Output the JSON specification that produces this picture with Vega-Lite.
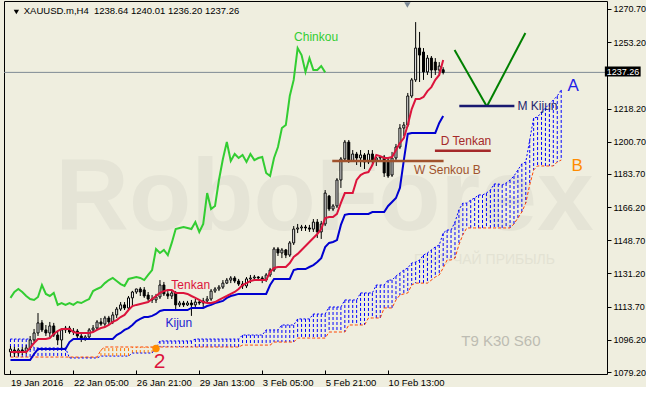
{
"$schema": "https://vega.github.io/schema/vega-lite/v6.json",
"width": 603, "height": 373,
"padding": {"left": 3, "top": 1, "right": 0, "bottom": 0},
"autosize": {"type": "pad"},
"background": "#EFEEDF",
"config": {"view": {"stroke": "#000000", "strokeWidth": 1, "fill": "#EFEEDF"}, "font": "Liberation Sans"},
"datasets": {
"bars": [
{"i":0,"o":1089.8,"h":1092.9,"l":1087.6,"c":1091.3,"tk":1089.8,"kj":1085.5,"ch":1118.3},
{"i":1,"o":1090.8,"h":1092.4,"l":1087.1,"c":1089.2,"tk":1089.8,"kj":1085.5,"ch":1121.4},
{"i":2,"o":1089.2,"h":1091.9,"l":1087.6,"c":1090.8,"tk":1089.8,"kj":1085.5,"ch":1123.0},
{"i":3,"o":1090.8,"h":1092.4,"l":1088.2,"c":1089.8,"tk":1089.8,"kj":1085.5,"ch":1121.4},
{"i":4,"o":1089.8,"h":1093.4,"l":1088.7,"c":1091.9,"tk":1089.8,"kj":1085.5,"ch":1119.3},
{"i":5,"o":1091.9,"h":1098.2,"l":1090.8,"c":1096.1,"tk":1091.9,"kj":1085.5,"ch":1117.7},
{"i":6,"o":1096.1,"h":1101.9,"l":1095.0,"c":1099.8,"tk":1094.5,"kj":1088.7,"ch":1117.2},
{"i":7,"o":1099.8,"h":1110.3,"l":1098.2,"c":1105.1,"tk":1096.6,"kj":1091.3,"ch":1118.8},
{"i":8,"o":1105.1,"h":1106.6,"l":1100.3,"c":1101.4,"tk":1096.6,"kj":1091.3,"ch":1125.1},
{"i":9,"o":1101.4,"h":1104.0,"l":1098.2,"c":1099.8,"tk":1096.6,"kj":1091.3,"ch":1120.4},
{"i":10,"o":1099.8,"h":1105.6,"l":1097.7,"c":1103.5,"tk":1097.1,"kj":1091.3,"ch":1119.3},
{"i":11,"o":1103.5,"h":1105.1,"l":1097.7,"c":1098.7,"tk":1099.3,"kj":1091.3,"ch":1120.9},
{"i":12,"o":1098.7,"h":1100.3,"l":1093.4,"c":1096.1,"tk":1100.8,"kj":1091.3,"ch":1114.6},
{"i":13,"o":1096.1,"h":1102.4,"l":1091.9,"c":1101.4,"tk":1101.9,"kj":1091.3,"ch":1115.6},
{"i":14,"o":1101.4,"h":1103.5,"l":1099.8,"c":1102.4,"tk":1101.9,"kj":1091.3,"ch":1114.6},
{"i":15,"o":1102.4,"h":1103.5,"l":1099.3,"c":1100.3,"tk":1101.9,"kj":1095.0,"ch":1115.6},
{"i":16,"o":1100.3,"h":1102.4,"l":1098.7,"c":1100.8,"tk":1100.3,"kj":1096.6,"ch":1114.6},
{"i":17,"o":1100.8,"h":1101.9,"l":1097.1,"c":1098.2,"tk":1099.8,"kj":1096.6,"ch":1116.1},
{"i":18,"o":1098.2,"h":1099.3,"l":1095.0,"c":1096.6,"tk":1099.8,"kj":1096.6,"ch":1115.6},
{"i":19,"o":1096.6,"h":1098.7,"l":1095.6,"c":1097.7,"tk":1099.8,"kj":1096.6,"ch":1116.7},
{"i":20,"o":1097.7,"h":1102.4,"l":1096.6,"c":1101.4,"tk":1099.8,"kj":1096.6,"ch":1117.7},
{"i":21,"o":1101.4,"h":1104.0,"l":1100.3,"c":1102.4,"tk":1100.3,"kj":1096.6,"ch":1121.9},
{"i":22,"o":1102.4,"h":1106.6,"l":1101.4,"c":1105.6,"tk":1101.4,"kj":1096.6,"ch":1123.0},
{"i":23,"o":1105.6,"h":1107.7,"l":1103.5,"c":1104.5,"tk":1102.4,"kj":1096.6,"ch":1124.0},
{"i":24,"o":1104.5,"h":1108.8,"l":1103.5,"c":1107.7,"tk":1102.9,"kj":1096.6,"ch":1126.1},
{"i":25,"o":1107.7,"h":1108.8,"l":1104.0,"c":1105.6,"tk":1104.0,"kj":1096.6,"ch":1127.7},
{"i":26,"o":1105.6,"h":1110.9,"l":1104.5,"c":1109.3,"tk":1105.6,"kj":1096.6,"ch":1128.8},
{"i":27,"o":1109.3,"h":1113.5,"l":1107.7,"c":1112.4,"tk":1106.6,"kj":1098.7,"ch":1127.2},
{"i":28,"o":1112.4,"h":1116.1,"l":1111.4,"c":1114.6,"tk":1108.2,"kj":1099.8,"ch":1125.6},
{"i":29,"o":1114.6,"h":1116.1,"l":1111.9,"c":1113.0,"tk":1109.3,"kj":1101.4,"ch":1124.6},
{"i":30,"o":1113.0,"h":1119.3,"l":1111.4,"c":1118.3,"tk":1111.9,"kj":1102.4,"ch":1128.3},
{"i":31,"o":1118.3,"h":1122.0,"l":1114.0,"c":1121.4,"tk":1114.0,"kj":1104.0,"ch":1128.8},
{"i":32,"o":1121.4,"h":1123.1,"l":1120.4,"c":1123.0,"tk":1114.6,"kj":1106.1,"ch":1129.3},
{"i":33,"o":1123.0,"h":1124.0,"l":1119.3,"c":1121.4,"tk":1115.1,"kj":1107.2,"ch":1128.8},
{"i":34,"o":1122.5,"h":1124.0,"l":1118.3,"c":1119.3,"tk":1115.6,"kj":1108.2,"ch":1127.7},
{"i":35,"o":1119.8,"h":1121.4,"l":1116.7,"c":1117.7,"tk":1116.1,"kj":1108.2,"ch":1130.4},
{"i":36,"o":1117.7,"h":1119.8,"l":1115.6,"c":1117.2,"tk":1117.7,"kj":1108.8,"ch":1133.0},
{"i":37,"o":1117.2,"h":1120.4,"l":1115.6,"c":1118.8,"tk":1119.3,"kj":1109.8,"ch":1144.1},
{"i":38,"o":1118.8,"h":1127.7,"l":1117.7,"c":1125.1,"tk":1120.9,"kj":1111.4,"ch":1142.0},
{"i":39,"o":1125.1,"h":1126.7,"l":1119.3,"c":1120.4,"tk":1121.9,"kj":1111.9,"ch":1143.6},
{"i":40,"o":1120.4,"h":1121.9,"l":1117.7,"c":1119.3,"tk":1122.5,"kj":1111.9,"ch":1140.9},
{"i":41,"o":1119.3,"h":1121.9,"l":1117.7,"c":1120.9,"tk":1122.5,"kj":1111.9,"ch":1147.3},
{"i":42,"o":1120.9,"h":1121.9,"l":1111.4,"c":1114.6,"tk":1120.9,"kj":1111.9,"ch":1154.6},
{"i":43,"o":1114.6,"h":1116.7,"l":1113.5,"c":1115.6,"tk":1120.9,"kj":1111.9,"ch":1155.2},
{"i":44,"o":1115.6,"h":1116.7,"l":1113.5,"c":1114.6,"tk":1120.9,"kj":1111.9,"ch":1155.7},
{"i":45,"o":1114.6,"h":1116.7,"l":1114.0,"c":1115.6,"tk":1120.4,"kj":1111.9,"ch":1155.2},
{"i":46,"o":1115.6,"h":1117.2,"l":1108.8,"c":1114.6,"tk":1119.3,"kj":1113.0,"ch":1154.6},
{"i":47,"o":1114.6,"h":1117.7,"l":1113.5,"c":1116.1,"tk":1118.3,"kj":1113.0,"ch":1158.3},
{"i":48,"o":1116.1,"h":1117.7,"l":1114.6,"c":1115.6,"tk":1117.2,"kj":1113.0,"ch":1153.1},
{"i":49,"o":1115.6,"h":1118.3,"l":1113.0,"c":1116.7,"tk":1116.1,"kj":1113.0,"ch":1157.3},
{"i":50,"o":1116.7,"h":1119.3,"l":1115.6,"c":1117.7,"tk":1115.6,"kj":1114.0,"ch":1173.6},
{"i":51,"o":1117.7,"h":1123.0,"l":1116.7,"c":1121.9,"tk":1115.6,"kj":1114.6,"ch":1165.2},
{"i":52,"o":1121.9,"h":1124.0,"l":1120.9,"c":1123.0,"tk":1116.1,"kj":1115.6,"ch":1166.8},
{"i":53,"o":1123.0,"h":1125.1,"l":1121.9,"c":1124.0,"tk":1117.2,"kj":1116.1,"ch":1180.5},
{"i":54,"o":1124.0,"h":1127.7,"l":1123.0,"c":1126.1,"tk":1118.3,"kj":1116.7,"ch":1191.6},
{"i":55,"o":1126.1,"h":1128.8,"l":1125.6,"c":1127.7,"tk":1119.3,"kj":1118.3,"ch":1200.5},
{"i":56,"o":1127.7,"h":1129.8,"l":1126.1,"c":1128.8,"tk":1120.4,"kj":1119.3,"ch":1190.5},
{"i":57,"o":1128.8,"h":1129.8,"l":1126.1,"c":1127.2,"tk":1121.4,"kj":1119.8,"ch":1194.2},
{"i":58,"o":1127.2,"h":1128.3,"l":1124.6,"c":1125.6,"tk":1123.0,"kj":1120.4,"ch":1192.1},
{"i":59,"o":1125.6,"h":1127.2,"l":1123.0,"c":1124.6,"tk":1125.1,"kj":1120.4,"ch":1193.7},
{"i":60,"o":1124.6,"h":1129.3,"l":1123.5,"c":1128.3,"tk":1126.1,"kj":1120.4,"ch":1190.0},
{"i":61,"o":1128.3,"h":1130.4,"l":1126.1,"c":1128.8,"tk":1127.2,"kj":1120.4,"ch":1194.2},
{"i":62,"o":1128.8,"h":1130.4,"l":1127.2,"c":1129.3,"tk":1127.7,"kj":1120.4,"ch":1191.0},
{"i":63,"o":1129.3,"h":1129.8,"l":1127.2,"c":1128.8,"tk":1127.7,"kj":1120.4,"ch":1192.1},
{"i":64,"o":1128.8,"h":1129.8,"l":1126.1,"c":1127.7,"tk":1127.7,"kj":1120.4,"ch":1192.6},
{"i":65,"o":1127.7,"h":1131.4,"l":1126.7,"c":1130.4,"tk":1127.7,"kj":1120.4,"ch":1184.2},
{"i":66,"o":1130.4,"h":1134.1,"l":1129.3,"c":1133.0,"tk":1131.9,"kj":1125.1,"ch":1182.6},
{"i":67,"o":1133.0,"h":1145.1,"l":1132.0,"c":1144.1,"tk":1134.1,"kj":1128.3,"ch":1192.1},
{"i":68,"o":1144.1,"h":1145.1,"l":1140.4,"c":1142.0,"tk":1134.6,"kj":1128.3,"ch":1197.9},
{"i":69,"o":1142.0,"h":1144.6,"l":1139.3,"c":1143.6,"tk":1134.6,"kj":1128.3,"ch":1207.9},
{"i":70,"o":1143.6,"h":1144.1,"l":1139.3,"c":1140.9,"tk":1134.6,"kj":1128.3,"ch":1209.5},
{"i":71,"o":1140.9,"h":1148.3,"l":1139.9,"c":1147.3,"tk":1136.7,"kj":1128.3,"ch":1224.8},
{"i":72,"o":1147.3,"h":1156.2,"l":1146.2,"c":1154.6,"tk":1139.9,"kj":1133.0,"ch":1233.3},
{"i":73,"o":1154.6,"h":1157.3,"l":1152.5,"c":1155.2,"tk":1141.5,"kj":1133.5,"ch":1250.1},
{"i":74,"o":1155.2,"h":1156.8,"l":1153.6,"c":1155.7,"tk":1143.6,"kj":1133.5,"ch":1246.4},
{"i":75,"o":1155.7,"h":1156.8,"l":1153.6,"c":1155.2,"tk":1145.7,"kj":1133.5,"ch":1237.5},
{"i":76,"o":1155.2,"h":1156.8,"l":1153.1,"c":1154.6,"tk":1147.8,"kj":1134.6,"ch":1244.8},
{"i":77,"o":1154.6,"h":1159.9,"l":1153.1,"c":1158.3,"tk":1149.9,"kj":1135.6,"ch":1238.5},
{"i":78,"o":1158.3,"h":1159.9,"l":1149.9,"c":1153.1,"tk":1152.0,"kj":1137.2,"ch":1238.5},
{"i":79,"o":1153.1,"h":1158.9,"l":1149.4,"c":1157.3,"tk":1154.6,"kj":1139.3,"ch":1240.6},
{"i":80,"o":1157.3,"h":1175.2,"l":1156.2,"c":1173.6,"tk":1160.4,"kj":1145.1,"ch":1237.26},
{"i":81,"o":1172.0,"h":1172.6,"l":1164.1,"c":1165.2,"tk":1161.0,"kj":1147.3},
{"i":82,"o":1165.2,"h":1167.8,"l":1164.1,"c":1166.8,"tk":1161.0,"kj":1147.8},
{"i":83,"o":1166.8,"h":1181.5,"l":1165.7,"c":1180.5,"tk":1162.6,"kj":1148.8},
{"i":84,"o":1180.5,"h":1192.6,"l":1176.3,"c":1191.6,"tk":1168.4,"kj":1156.8},
{"i":85,"o":1191.6,"h":1201.6,"l":1190.0,"c":1200.5,"tk":1173.6,"kj":1162.1},
{"i":86,"o":1200.5,"h":1201.6,"l":1189.5,"c":1190.5,"tk":1173.6,"kj":1162.6},
{"i":87,"o":1190.5,"h":1196.3,"l":1190.0,"c":1194.2,"tk":1173.6,"kj":1162.6},
{"i":88,"o":1194.2,"h":1195.3,"l":1188.4,"c":1192.1,"tk":1180.5,"kj":1162.6},
{"i":89,"o":1192.1,"h":1196.3,"l":1187.4,"c":1193.7,"tk":1183.1,"kj":1162.6},
{"i":90,"o":1193.7,"h":1194.7,"l":1186.3,"c":1190.0,"tk":1184.2,"kj":1162.6},
{"i":91,"o":1190.0,"h":1196.3,"l":1188.9,"c":1194.2,"tk":1184.7,"kj":1162.6},
{"i":92,"o":1194.2,"h":1196.3,"l":1187.9,"c":1191.0,"tk":1188.4,"kj":1163.6},
{"i":93,"o":1191.0,"h":1192.6,"l":1187.9,"c":1192.1,"tk":1193.7,"kj":1163.6},
{"i":94,"o":1192.1,"h":1193.1,"l":1190.0,"c":1192.6,"tk":1193.1,"kj":1163.6},
{"i":95,"o":1192.6,"h":1193.7,"l":1182.1,"c":1184.2,"tk":1192.1,"kj":1163.6},
{"i":96,"o":1191.0,"h":1192.1,"l":1181.6,"c":1182.6,"tk":1192.1,"kj":1166.8},
{"i":97,"o":1183.1,"h":1195.3,"l":1182.1,"c":1192.1,"tk":1192.6,"kj":1168.9},
{"i":98,"o":1192.1,"h":1199.5,"l":1191.0,"c":1197.9,"tk":1196.3,"kj":1171.0},
{"i":99,"o":1197.9,"h":1210.0,"l":1196.8,"c":1207.9,"tk":1200.0,"kj":1176.3},
{"i":100,"o":1207.9,"h":1211.1,"l":1203.7,"c":1209.5,"tk":1202.6,"kj":1191.0},
{"i":101,"o":1209.5,"h":1226.4,"l":1208.4,"c":1224.8,"tk":1209.5,"kj":1204.8},
{"i":102,"o":1224.8,"h":1234.3,"l":1223.7,"c":1233.3,"tk":1217.9,"kj":1205.3},
{"i":103,"o":1233.3,"h":1263.8,"l":1232.2,"c":1250.1,"tk":1223.2,"kj":1205.3},
{"i":104,"o":1250.1,"h":1258.6,"l":1232.2,"c":1246.4,"tk":1223.2,"kj":1205.3},
{"i":105,"o":1248.0,"h":1250.1,"l":1233.3,"c":1237.5,"tk":1224.3,"kj":1205.3},
{"i":106,"o":1237.5,"h":1246.4,"l":1235.9,"c":1244.8,"tk":1227.4,"kj":1205.3},
{"i":107,"o":1244.8,"h":1245.9,"l":1234.3,"c":1238.5,"tk":1229.5,"kj":1205.3},
{"i":108,"o":1242.7,"h":1244.8,"l":1235.9,"c":1238.5,"tk":1233.3,"kj":1205.3},
{"i":109,"o":1238.5,"h":1242.7,"l":1235.4,"c":1240.6,"tk":1235.9,"kj":1210.6},
{"i":110,"o":1238.64,"h":1240.01,"l":1236.2,"c":1237.26,"tk":1243.8,"kj":1214.3}
],
"cloud": [
{"i":0,"a":1096.6,"b":1087.1},{"i":1,"a":1096.6,"b":1087.1},{"i":2,"a":1096.6,"b":1087.1},{"i":3,"a":1096.6,"b":1087.1},{"i":4,"a":1096.6,"b":1087.1},{"i":5,"a":1096.6,"b":1087.1},
{"i":6,"a":1091.9,"b":1087.1},{"i":7,"a":1091.9,"b":1087.1},{"i":8,"a":1091.9,"b":1087.1},{"i":9,"a":1091.9,"b":1087.1},{"i":10,"a":1091.9,"b":1087.1},{"i":11,"a":1091.9,"b":1087.1},{"i":12,"a":1091.9,"b":1087.1},{"i":13,"a":1091.9,"b":1087.1},{"i":14,"a":1091.9,"b":1087.1},
{"i":15,"a":1086.6,"b":1087.1},{"i":16,"a":1086.6,"b":1087.1},{"i":17,"a":1086.6,"b":1087.1},{"i":18,"a":1086.6,"b":1087.1},{"i":19,"a":1086.6,"b":1087.1},{"i":20,"a":1086.6,"b":1087.1},{"i":21,"a":1086.6,"b":1087.1},{"i":22,"a":1086.6,"b":1087.1},
{"i":23,"a":1087.6,"b":1090.8},{"i":24,"a":1087.6,"b":1092.4},{"i":25,"a":1087.6,"b":1092.4},{"i":26,"a":1087.6,"b":1092.4},{"i":27,"a":1087.6,"b":1092.4},{"i":28,"a":1087.6,"b":1092.4},{"i":29,"a":1087.6,"b":1092.4},{"i":30,"a":1087.6,"b":1092.4},
{"i":31,"a":1089.2,"b":1092.4},{"i":32,"a":1089.2,"b":1092.4},{"i":33,"a":1089.2,"b":1092.4},{"i":34,"a":1089.2,"b":1092.4},{"i":35,"a":1089.2,"b":1092.4},{"i":36,"a":1089.2,"b":1092.4},{"i":37,"a":1091.9,"b":1092.4},
{"i":38,"a":1095.6,"b":1092.4},{"i":39,"a":1095.6,"b":1092.4},{"i":40,"a":1095.6,"b":1092.4},{"i":41,"a":1095.6,"b":1092.4},{"i":42,"a":1095.6,"b":1092.4},{"i":43,"a":1095.6,"b":1092.4},{"i":44,"a":1095.6,"b":1092.4},{"i":45,"a":1095.6,"b":1092.4},{"i":46,"a":1095.6,"b":1092.4},
{"i":47,"a":1096.6,"b":1092.4},{"i":48,"a":1096.6,"b":1092.4},{"i":49,"a":1096.6,"b":1092.4},{"i":50,"a":1096.6,"b":1092.4},{"i":51,"a":1096.6,"b":1092.4},{"i":52,"a":1096.6,"b":1092.4},{"i":53,"a":1096.6,"b":1092.4},{"i":54,"a":1096.6,"b":1092.4},{"i":55,"a":1096.6,"b":1092.4},{"i":56,"a":1096.6,"b":1092.4},{"i":57,"a":1096.6,"b":1092.4},{"i":58,"a":1096.6,"b":1092.4},
{"i":59,"a":1098.7,"b":1093.4},{"i":60,"a":1098.7,"b":1093.4},{"i":61,"a":1098.7,"b":1093.4},{"i":62,"a":1098.7,"b":1093.4},{"i":63,"a":1098.7,"b":1093.4},{"i":64,"a":1098.7,"b":1093.4},
{"i":65,"a":1101.4,"b":1093.4},{"i":66,"a":1101.4,"b":1093.4},{"i":67,"a":1101.4,"b":1095.0},{"i":68,"a":1101.4,"b":1095.0},
{"i":69,"a":1104.0,"b":1095.0},{"i":70,"a":1104.0,"b":1095.0},{"i":71,"a":1104.0,"b":1095.0},{"i":72,"a":1104.0,"b":1095.0},
{"i":73,"a":1107.2,"b":1097.1},{"i":74,"a":1107.2,"b":1097.1},{"i":75,"a":1107.2,"b":1097.1},{"i":76,"a":1107.2,"b":1097.1},
{"i":77,"a":1109.8,"b":1097.1},{"i":78,"a":1109.8,"b":1097.1},{"i":79,"a":1109.8,"b":1097.1},{"i":80,"a":1109.8,"b":1097.1},
{"i":81,"a":1113.5,"b":1100.3},{"i":82,"a":1113.5,"b":1100.3},{"i":83,"a":1113.5,"b":1100.3},{"i":84,"a":1113.5,"b":1100.3},
{"i":85,"a":1117.2,"b":1100.3},{"i":86,"a":1117.2,"b":1104.0},{"i":87,"a":1117.2,"b":1104.0},{"i":88,"a":1117.2,"b":1104.0},
{"i":89,"a":1120.9,"b":1104.0},{"i":90,"a":1120.9,"b":1104.0},{"i":91,"a":1120.9,"b":1107.7},{"i":92,"a":1120.9,"b":1107.7},
{"i":93,"a":1125.1,"b":1107.7},{"i":94,"a":1125.1,"b":1107.7},{"i":95,"a":1125.1,"b":1113.0},{"i":96,"a":1127.7,"b":1113.0},{"i":97,"a":1127.7,"b":1113.0},
{"i":98,"a":1129.8,"b":1117.2},{"i":99,"a":1131.4,"b":1119.8},{"i":100,"a":1133.0,"b":1120.4},{"i":101,"a":1134.1,"b":1120.9},{"i":102,"a":1136.7,"b":1125.1},{"i":103,"a":1137.2,"b":1126.1},{"i":104,"a":1138.3,"b":1126.1},{"i":105,"a":1140.9,"b":1126.1},{"i":106,"a":1142.0,"b":1126.1},{"i":107,"a":1143.6,"b":1127.7},{"i":108,"a":1145.2,"b":1129.3},{"i":109,"a":1146.2,"b":1130.4},
{"i":110,"a":1152.5,"b":1134.1},{"i":111,"a":1154.1,"b":1138.3},{"i":112,"a":1154.1,"b":1138.3},{"i":113,"a":1158.3,"b":1139.3},{"i":114,"a":1164.7,"b":1146.3},{"i":115,"a":1168.3,"b":1151.6},{"i":116,"a":1168.3,"b":1155.2},{"i":117,"a":1169.9,"b":1155.2},{"i":118,"a":1171.0,"b":1155.2},{"i":119,"a":1172.6,"b":1155.2},
{"i":120,"a":1172.6,"b":1155.2},{"i":121,"a":1173.6,"b":1155.2},{"i":122,"a":1175.2,"b":1155.2},{"i":123,"a":1178.4,"b":1155.2},{"i":124,"a":1178.4,"b":1155.2},{"i":125,"a":1177.9,"b":1155.2},{"i":126,"a":1178.9,"b":1155.2},{"i":127,"a":1180.5,"b":1155.2},{"i":128,"a":1182.6,"b":1157.3},{"i":129,"a":1185.8,"b":1160.5},
{"i":130,"a":1189.0,"b":1163.6},{"i":131,"a":1190.0,"b":1168.4},{"i":132,"a":1201.6,"b":1177.9},{"i":133,"a":1213.2,"b":1185.8},{"i":134,"a":1213.7,"b":1187.9},{"i":135,"a":1216.4,"b":1187.9},{"i":136,"a":1218.5,"b":1187.9},{"i":137,"a":1220.6,"b":1187.9},{"i":138,"a":1222.7,"b":1187.9},{"i":139,"a":1224.8,"b":1190.0},{"i":140,"a":1228.0,"b":1191.0}
]
},
"layer": [
{
"data": {"values": [{"x":11.4,"y":1170.5,"t":"RoboForex"}]},
"mark": {"type": "text", "align": "left", "baseline": "middle", "font": "Liberation Sans", "fontWeight": "bold", "fontSize": 102, "color": "#E5E4D6"},
"encoding": {
"x": {"field": "x", "type": "quantitative", "scale": {"domain": [-0.375, 150.375], "nice": false, "zero": false},
"axis": {"orient": "bottom", "values": [0,16,32,48,64,80,96], "labelExpr": "['19 Jan 2016','22 Jan 05:00','26 Jan 21:00','29 Jan 13:00','3 Feb 05:00','5 Feb 21:00','10 Feb 13:00'][round(datum.value/16)]", "title": null, "grid": false, "domain": false, "ticks": true, "tickSize": -4, "tickColor": "#000000", "labelColor": "#000000", "labelFont": "Liberation Sans", "labelFontSize": 9.5, "labelPadding": 7, "labelAlign": "left", "labelFlush": false, "labelOverlap": false, "labelBound": false}},
"y": {"field": "y", "type": "quantitative", "scale": {"domain": [1078.15, 1274.92], "nice": false, "zero": false},
"axis": {"orient": "right", "values": [1079.2,1096.2,1113.7,1131.2,1148.7,1166.2,1183.7,1200.7,1218.2,1253.2,1270.7], "format": ".2f", "title": null, "grid": false, "domain": false, "ticks": true, "tickSize": 4, "tickColor": "#000000", "labelColor": "#000000", "labelFont": "Liberation Sans", "labelFontSize": 9, "labelPadding": 2, "labelFlush": false, "labelOverlap": false, "labelBound": false}},
"text": {"field": "t"}
}
},
{
"data": {"values": [{"x":102.6,"y":1138.3,"t":"ПОЛУЧАЙ ПРИБЫЛЬ"}]},
"mark": {"type": "text", "align": "left", "baseline": "middle", "font": "Liberation Sans", "fontSize": 14, "color": "#E3E2D3"},
"encoding": {
"x": {"field": "x", "type": "quantitative", "scale": {"domain": [-0.375, 150.375], "nice": false, "zero": false},
"axis": {"orient": "bottom", "values": [0,16,32,48,64,80,96], "labelExpr": "['19 Jan 2016','22 Jan 05:00','26 Jan 21:00','29 Jan 13:00','3 Feb 05:00','5 Feb 21:00','10 Feb 13:00'][round(datum.value/16)]", "title": null, "grid": false, "domain": false, "ticks": true, "tickSize": -4, "tickColor": "#000000", "labelColor": "#000000", "labelFont": "Liberation Sans", "labelFontSize": 9.5, "labelPadding": 7, "labelAlign": "left", "labelFlush": false, "labelOverlap": false, "labelBound": false}},
"y": {"field": "y", "type": "quantitative", "scale": {"domain": [1078.15, 1274.92], "nice": false, "zero": false},
"axis": {"orient": "right", "values": [1079.2,1096.2,1113.7,1131.2,1148.7,1166.2,1183.7,1200.7,1218.2,1253.2,1270.7], "format": ".2f", "title": null, "grid": false, "domain": false, "ticks": true, "tickSize": 4, "tickColor": "#000000", "labelColor": "#000000", "labelFont": "Liberation Sans", "labelFontSize": 9, "labelPadding": 2, "labelFlush": false, "labelOverlap": false, "labelBound": false}},
"text": {"field": "t"}
}
},
{
"data": {"name": "cloud"},
"mark": {"type": "rule", "strokeWidth": 1, "strokeDash": [3, 2]},
"encoding": {
"x": {"field": "i", "type": "quantitative", "scale": {"domain": [-0.375, 150.375], "nice": false, "zero": false},
"axis": {"orient": "bottom", "values": [0,16,32,48,64,80,96], "labelExpr": "['19 Jan 2016','22 Jan 05:00','26 Jan 21:00','29 Jan 13:00','3 Feb 05:00','5 Feb 21:00','10 Feb 13:00'][round(datum.value/16)]", "title": null, "grid": false, "domain": false, "ticks": true, "tickSize": -4, "tickColor": "#000000", "labelColor": "#000000", "labelFont": "Liberation Sans", "labelFontSize": 9.5, "labelPadding": 7, "labelAlign": "left", "labelFlush": false, "labelOverlap": false, "labelBound": false}},
"y": {"field": "a", "type": "quantitative", "scale": {"domain": [1078.15, 1274.92], "nice": false, "zero": false},
"axis": {"orient": "right", "values": [1079.2,1096.2,1113.7,1131.2,1148.7,1166.2,1183.7,1200.7,1218.2,1253.2,1270.7], "format": ".2f", "title": null, "grid": false, "domain": false, "ticks": true, "tickSize": 4, "tickColor": "#000000", "labelColor": "#000000", "labelFont": "Liberation Sans", "labelFontSize": 9, "labelPadding": 2, "labelFlush": false, "labelOverlap": false, "labelBound": false}},
"y2": {"field": "b"},
"color": {"condition": {"test": "datum.a >= datum.b", "value": "#0000FF"}, "value": "#FF7A00"}
}
},
{
"data": {"name": "cloud"},
"mark": {"type": "line", "color": "#FF4500", "strokeWidth": 1, "strokeDash": [3, 2]},
"encoding": {
"x": {"field": "i", "type": "quantitative", "scale": {"domain": [-0.375, 150.375], "nice": false, "zero": false},
"axis": {"orient": "bottom", "values": [0,16,32,48,64,80,96], "labelExpr": "['19 Jan 2016','22 Jan 05:00','26 Jan 21:00','29 Jan 13:00','3 Feb 05:00','5 Feb 21:00','10 Feb 13:00'][round(datum.value/16)]", "title": null, "grid": false, "domain": false, "ticks": true, "tickSize": -4, "tickColor": "#000000", "labelColor": "#000000", "labelFont": "Liberation Sans", "labelFontSize": 9.5, "labelPadding": 7, "labelAlign": "left", "labelFlush": false, "labelOverlap": false, "labelBound": false}},
"y": {"field": "b", "type": "quantitative", "scale": {"domain": [1078.15, 1274.92], "nice": false, "zero": false},
"axis": {"orient": "right", "values": [1079.2,1096.2,1113.7,1131.2,1148.7,1166.2,1183.7,1200.7,1218.2,1253.2,1270.7], "format": ".2f", "title": null, "grid": false, "domain": false, "ticks": true, "tickSize": 4, "tickColor": "#000000", "labelColor": "#000000", "labelFont": "Liberation Sans", "labelFontSize": 9, "labelPadding": 2, "labelFlush": false, "labelOverlap": false, "labelBound": false}}
}
},
{
"data": {"name": "cloud"},
"mark": {"type": "line", "color": "#0000FF", "strokeWidth": 1, "strokeDash": [2, 2]},
"encoding": {
"x": {"field": "i", "type": "quantitative", "scale": {"domain": [-0.375, 150.375], "nice": false, "zero": false},
"axis": {"orient": "bottom", "values": [0,16,32,48,64,80,96], "labelExpr": "['19 Jan 2016','22 Jan 05:00','26 Jan 21:00','29 Jan 13:00','3 Feb 05:00','5 Feb 21:00','10 Feb 13:00'][round(datum.value/16)]", "title": null, "grid": false, "domain": false, "ticks": true, "tickSize": -4, "tickColor": "#000000", "labelColor": "#000000", "labelFont": "Liberation Sans", "labelFontSize": 9.5, "labelPadding": 7, "labelAlign": "left", "labelFlush": false, "labelOverlap": false, "labelBound": false}},
"y": {"field": "a", "type": "quantitative", "scale": {"domain": [1078.15, 1274.92], "nice": false, "zero": false},
"axis": {"orient": "right", "values": [1079.2,1096.2,1113.7,1131.2,1148.7,1166.2,1183.7,1200.7,1218.2,1253.2,1270.7], "format": ".2f", "title": null, "grid": false, "domain": false, "ticks": true, "tickSize": 4, "tickColor": "#000000", "labelColor": "#000000", "labelFont": "Liberation Sans", "labelFontSize": 9, "labelPadding": 2, "labelFlush": false, "labelOverlap": false, "labelBound": false}}
}
},
{
"data": {"values": [{"x": 0, "p": 1237.26}]},
"mark": {"type": "rule", "color": "#7F8A94", "strokeWidth": 1},
"encoding": {
"y": {"field": "p", "type": "quantitative", "scale": {"domain": [1078.15, 1274.92], "nice": false, "zero": false},
"axis": {"orient": "right", "values": [1079.2,1096.2,1113.7,1131.2,1148.7,1166.2,1183.7,1200.7,1218.2,1253.2,1270.7], "format": ".2f", "title": null, "grid": false, "domain": false, "ticks": true, "tickSize": 4, "tickColor": "#000000", "labelColor": "#000000", "labelFont": "Liberation Sans", "labelFontSize": 9, "labelPadding": 2, "labelFlush": false, "labelOverlap": false, "labelBound": false}}
}
},
{
"data": {"name": "bars"},
"mark": {"type": "rule", "color": "#000000", "strokeWidth": 1},
"encoding": {
"x": {"field": "i", "type": "quantitative", "scale": {"domain": [-0.375, 150.375], "nice": false, "zero": false},
"axis": {"orient": "bottom", "values": [0,16,32,48,64,80,96], "labelExpr": "['19 Jan 2016','22 Jan 05:00','26 Jan 21:00','29 Jan 13:00','3 Feb 05:00','5 Feb 21:00','10 Feb 13:00'][round(datum.value/16)]", "title": null, "grid": false, "domain": false, "ticks": true, "tickSize": -4, "tickColor": "#000000", "labelColor": "#000000", "labelFont": "Liberation Sans", "labelFontSize": 9.5, "labelPadding": 7, "labelAlign": "left", "labelFlush": false, "labelOverlap": false, "labelBound": false}},
"y": {"field": "l", "type": "quantitative", "scale": {"domain": [1078.15, 1274.92], "nice": false, "zero": false},
"axis": {"orient": "right", "values": [1079.2,1096.2,1113.7,1131.2,1148.7,1166.2,1183.7,1200.7,1218.2,1253.2,1270.7], "format": ".2f", "title": null, "grid": false, "domain": false, "ticks": true, "tickSize": 4, "tickColor": "#000000", "labelColor": "#000000", "labelFont": "Liberation Sans", "labelFontSize": 9, "labelPadding": 2, "labelFlush": false, "labelOverlap": false, "labelBound": false}},
"y2": {"field": "h"}
}
},
{
"data": {"name": "bars"},
"mark": {"type": "bar", "size": 2, "stroke": "#000000", "strokeWidth": 1},
"encoding": {
"x": {"field": "i", "type": "quantitative", "scale": {"domain": [-0.375, 150.375], "nice": false, "zero": false},
"axis": {"orient": "bottom", "values": [0,16,32,48,64,80,96], "labelExpr": "['19 Jan 2016','22 Jan 05:00','26 Jan 21:00','29 Jan 13:00','3 Feb 05:00','5 Feb 21:00','10 Feb 13:00'][round(datum.value/16)]", "title": null, "grid": false, "domain": false, "ticks": true, "tickSize": -4, "tickColor": "#000000", "labelColor": "#000000", "labelFont": "Liberation Sans", "labelFontSize": 9.5, "labelPadding": 7, "labelAlign": "left", "labelFlush": false, "labelOverlap": false, "labelBound": false}},
"y": {"field": "o", "type": "quantitative", "scale": {"domain": [1078.15, 1274.92], "nice": false, "zero": false},
"axis": {"orient": "right", "values": [1079.2,1096.2,1113.7,1131.2,1148.7,1166.2,1183.7,1200.7,1218.2,1253.2,1270.7], "format": ".2f", "title": null, "grid": false, "domain": false, "ticks": true, "tickSize": 4, "tickColor": "#000000", "labelColor": "#000000", "labelFont": "Liberation Sans", "labelFontSize": 9, "labelPadding": 2, "labelFlush": false, "labelOverlap": false, "labelBound": false}},
"y2": {"field": "c"},
"fill": {"condition": {"test": "datum.c >= datum.o", "value": "#FFFFFF"}, "value": "#000000"}
}
},
{
"data": {"name": "bars"},
"mark": {"type": "line", "color": "#32CD32", "strokeWidth": 2},
"encoding": {
"x": {"field": "i", "type": "quantitative", "scale": {"domain": [-0.375, 150.375], "nice": false, "zero": false},
"axis": {"orient": "bottom", "values": [0,16,32,48,64,80,96], "labelExpr": "['19 Jan 2016','22 Jan 05:00','26 Jan 21:00','29 Jan 13:00','3 Feb 05:00','5 Feb 21:00','10 Feb 13:00'][round(datum.value/16)]", "title": null, "grid": false, "domain": false, "ticks": true, "tickSize": -4, "tickColor": "#000000", "labelColor": "#000000", "labelFont": "Liberation Sans", "labelFontSize": 9.5, "labelPadding": 7, "labelAlign": "left", "labelFlush": false, "labelOverlap": false, "labelBound": false}},
"y": {"field": "ch", "type": "quantitative", "scale": {"domain": [1078.15, 1274.92], "nice": false, "zero": false},
"axis": {"orient": "right", "values": [1079.2,1096.2,1113.7,1131.2,1148.7,1166.2,1183.7,1200.7,1218.2,1253.2,1270.7], "format": ".2f", "title": null, "grid": false, "domain": false, "ticks": true, "tickSize": 4, "tickColor": "#000000", "labelColor": "#000000", "labelFont": "Liberation Sans", "labelFontSize": 9, "labelPadding": 2, "labelFlush": false, "labelOverlap": false, "labelBound": false}}
}
},
{
"data": {"name": "bars"},
"mark": {"type": "line", "color": "#0000D0", "strokeWidth": 2},
"encoding": {
"x": {"field": "i", "type": "quantitative", "scale": {"domain": [-0.375, 150.375], "nice": false, "zero": false},
"axis": {"orient": "bottom", "values": [0,16,32,48,64,80,96], "labelExpr": "['19 Jan 2016','22 Jan 05:00','26 Jan 21:00','29 Jan 13:00','3 Feb 05:00','5 Feb 21:00','10 Feb 13:00'][round(datum.value/16)]", "title": null, "grid": false, "domain": false, "ticks": true, "tickSize": -4, "tickColor": "#000000", "labelColor": "#000000", "labelFont": "Liberation Sans", "labelFontSize": 9.5, "labelPadding": 7, "labelAlign": "left", "labelFlush": false, "labelOverlap": false, "labelBound": false}},
"y": {"field": "kj", "type": "quantitative", "scale": {"domain": [1078.15, 1274.92], "nice": false, "zero": false},
"axis": {"orient": "right", "values": [1079.2,1096.2,1113.7,1131.2,1148.7,1166.2,1183.7,1200.7,1218.2,1253.2,1270.7], "format": ".2f", "title": null, "grid": false, "domain": false, "ticks": true, "tickSize": 4, "tickColor": "#000000", "labelColor": "#000000", "labelFont": "Liberation Sans", "labelFontSize": 9, "labelPadding": 2, "labelFlush": false, "labelOverlap": false, "labelBound": false}}
}
},
{
"data": {"name": "bars"},
"mark": {"type": "line", "color": "#DC143C", "strokeWidth": 2},
"encoding": {
"x": {"field": "i", "type": "quantitative", "scale": {"domain": [-0.375, 150.375], "nice": false, "zero": false},
"axis": {"orient": "bottom", "values": [0,16,32,48,64,80,96], "labelExpr": "['19 Jan 2016','22 Jan 05:00','26 Jan 21:00','29 Jan 13:00','3 Feb 05:00','5 Feb 21:00','10 Feb 13:00'][round(datum.value/16)]", "title": null, "grid": false, "domain": false, "ticks": true, "tickSize": -4, "tickColor": "#000000", "labelColor": "#000000", "labelFont": "Liberation Sans", "labelFontSize": 9.5, "labelPadding": 7, "labelAlign": "left", "labelFlush": false, "labelOverlap": false, "labelBound": false}},
"y": {"field": "tk", "type": "quantitative", "scale": {"domain": [1078.15, 1274.92], "nice": false, "zero": false},
"axis": {"orient": "right", "values": [1079.2,1096.2,1113.7,1131.2,1148.7,1166.2,1183.7,1200.7,1218.2,1253.2,1270.7], "format": ".2f", "title": null, "grid": false, "domain": false, "ticks": true, "tickSize": 4, "tickColor": "#000000", "labelColor": "#000000", "labelFont": "Liberation Sans", "labelFontSize": 9, "labelPadding": 2, "labelFlush": false, "labelOverlap": false, "labelBound": false}}
}
},
{
"data": {"values": [
{"x":112.9,"y":1249.07,"x2":121.1,"y2":1219.26,"c":"#008000","w":2},
{"x":121.1,"y":1219.26,"x2":130.9,"y2":1258.04,"c":"#008000","w":2},
{"x":114.1,"y":1219.53,"x2":128.1,"y2":1219.53,"c":"#191970","w":2.5},
{"x":107.9,"y":1195.95,"x2":122.1,"y2":1195.95,"c":"#A52A2A","w":2.5},
{"x":81.8,"y":1190.5,"x2":110.1,"y2":1190.5,"c":"#A0522D","w":2.5}
]},
"mark": {"type": "rule"},
"encoding": {
"x": {"field": "x", "type": "quantitative", "scale": {"domain": [-0.375, 150.375], "nice": false, "zero": false},
"axis": {"orient": "bottom", "values": [0,16,32,48,64,80,96], "labelExpr": "['19 Jan 2016','22 Jan 05:00','26 Jan 21:00','29 Jan 13:00','3 Feb 05:00','5 Feb 21:00','10 Feb 13:00'][round(datum.value/16)]", "title": null, "grid": false, "domain": false, "ticks": true, "tickSize": -4, "tickColor": "#000000", "labelColor": "#000000", "labelFont": "Liberation Sans", "labelFontSize": 9.5, "labelPadding": 7, "labelAlign": "left", "labelFlush": false, "labelOverlap": false, "labelBound": false}},
"y": {"field": "y", "type": "quantitative", "scale": {"domain": [1078.15, 1274.92], "nice": false, "zero": false},
"axis": {"orient": "right", "values": [1079.2,1096.2,1113.7,1131.2,1148.7,1166.2,1183.7,1200.7,1218.2,1253.2,1270.7], "format": ".2f", "title": null, "grid": false, "domain": false, "ticks": true, "tickSize": 4, "tickColor": "#000000", "labelColor": "#000000", "labelFont": "Liberation Sans", "labelFontSize": 9, "labelPadding": 2, "labelFlush": false, "labelOverlap": false, "labelBound": false}},
"x2": {"field": "x2"},
"y2": {"field": "y2"},
"color": {"field": "c", "type": "nominal", "scale": null},
"strokeWidth": {"field": "w", "type": "quantitative", "scale": null}
}
},
{
"data": {"values": [
{"x":1.5,"y":1269.12,"sh":"triangle-down","c":"#000000","s":28},
{"x":100.9,"y":1272.8,"sh":"triangle-down","c":"#7A8794","s":40},
{"x":37,"y":1091.6,"sh":"circle","c":"#FF8C00","s":55}
]},
"mark": {"type": "point", "filled": true, "opacity": 1},
"encoding": {
"x": {"field": "x", "type": "quantitative", "scale": {"domain": [-0.375, 150.375], "nice": false, "zero": false},
"axis": {"orient": "bottom", "values": [0,16,32,48,64,80,96], "labelExpr": "['19 Jan 2016','22 Jan 05:00','26 Jan 21:00','29 Jan 13:00','3 Feb 05:00','5 Feb 21:00','10 Feb 13:00'][round(datum.value/16)]", "title": null, "grid": false, "domain": false, "ticks": true, "tickSize": -4, "tickColor": "#000000", "labelColor": "#000000", "labelFont": "Liberation Sans", "labelFontSize": 9.5, "labelPadding": 7, "labelAlign": "left", "labelFlush": false, "labelOverlap": false, "labelBound": false}},
"y": {"field": "y", "type": "quantitative", "scale": {"domain": [1078.15, 1274.92], "nice": false, "zero": false},
"axis": {"orient": "right", "values": [1079.2,1096.2,1113.7,1131.2,1148.7,1166.2,1183.7,1200.7,1218.2,1253.2,1270.7], "format": ".2f", "title": null, "grid": false, "domain": false, "ticks": true, "tickSize": 4, "tickColor": "#000000", "labelColor": "#000000", "labelFont": "Liberation Sans", "labelFontSize": 9, "labelPadding": 2, "labelFlush": false, "labelOverlap": false, "labelBound": false}},
"shape": {"field": "sh", "type": "nominal", "scale": null},
"color": {"field": "c", "type": "nominal", "scale": null},
"size": {"field": "s", "type": "quantitative", "scale": null}
}
},
{
"data": {"values": [
{"x":3.375,"y":1269.65,"t":"XAUUSD.m,H4\u00a0 1238.64 1240.01 1236.20 1237.26","c":"#000000","s":9.5},
{"x":72.1,"y":1255.93,"t":"Chinkou","c":"#32CD32","s":12},
{"x":40.9,"y":1125.1,"t":"Tenkan","c":"#DC143C","s":12},
{"x":39.4,"y":1105.05,"t":"Kijun","c":"#2323D2","s":12},
{"x":128.9,"y":1219.53,"t":"M Kijun","c":"#24246E","s":12},
{"x":109.4,"y":1201.06,"t":"D Tenkan","c":"#A52A2A","s":12},
{"x":102.6,"y":1185.76,"t":"W Senkou B","c":"#A0522D","s":12},
{"x":141.6,"y":1230.08,"t":"A","c":"#1E1EE6","s":17},
{"x":142.6,"y":1187.9,"t":"B","c":"#FF8C00","s":17},
{"x":36.4,"y":1084.47,"t":"2","c":"#DC143C","s":21},
{"x":114.6,"y":1095.55,"t":"T9 K30 S60","c":"#BDBCB2","s":15}
]},
"mark": {"type": "text", "align": "left", "baseline": "middle", "font": "Liberation Sans"},
"encoding": {
"x": {"field": "x", "type": "quantitative", "scale": {"domain": [-0.375, 150.375], "nice": false, "zero": false},
"axis": {"orient": "bottom", "values": [0,16,32,48,64,80,96], "labelExpr": "['19 Jan 2016','22 Jan 05:00','26 Jan 21:00','29 Jan 13:00','3 Feb 05:00','5 Feb 21:00','10 Feb 13:00'][round(datum.value/16)]", "title": null, "grid": false, "domain": false, "ticks": true, "tickSize": -4, "tickColor": "#000000", "labelColor": "#000000", "labelFont": "Liberation Sans", "labelFontSize": 9.5, "labelPadding": 7, "labelAlign": "left", "labelFlush": false, "labelOverlap": false, "labelBound": false}},
"y": {"field": "y", "type": "quantitative", "scale": {"domain": [1078.15, 1274.92], "nice": false, "zero": false},
"axis": {"orient": "right", "values": [1079.2,1096.2,1113.7,1131.2,1148.7,1166.2,1183.7,1200.7,1218.2,1253.2,1270.7], "format": ".2f", "title": null, "grid": false, "domain": false, "ticks": true, "tickSize": 4, "tickColor": "#000000", "labelColor": "#000000", "labelFont": "Liberation Sans", "labelFontSize": 9, "labelPadding": 2, "labelFlush": false, "labelOverlap": false, "labelBound": false}},
"text": {"field": "t"},
"color": {"field": "c", "type": "nominal", "scale": null},
"size": {"field": "s", "type": "quantitative", "scale": null}
}
},
{
"data": {"values": [{"x":151.1,"x2":160.2,"y":1240.37,"y2":1235.09}]},
"mark": {"type": "rect", "color": "#000000", "clip": false},
"encoding": {
"x": {"field": "x", "type": "quantitative", "scale": {"domain": [-0.375, 150.375], "nice": false, "zero": false},
"axis": {"orient": "bottom", "values": [0,16,32,48,64,80,96], "labelExpr": "['19 Jan 2016','22 Jan 05:00','26 Jan 21:00','29 Jan 13:00','3 Feb 05:00','5 Feb 21:00','10 Feb 13:00'][round(datum.value/16)]", "title": null, "grid": false, "domain": false, "ticks": true, "tickSize": -4, "tickColor": "#000000", "labelColor": "#000000", "labelFont": "Liberation Sans", "labelFontSize": 9.5, "labelPadding": 7, "labelAlign": "left", "labelFlush": false, "labelOverlap": false, "labelBound": false}},
"y": {"field": "y", "type": "quantitative", "scale": {"domain": [1078.15, 1274.92], "nice": false, "zero": false},
"axis": {"orient": "right", "values": [1079.2,1096.2,1113.7,1131.2,1148.7,1166.2,1183.7,1200.7,1218.2,1253.2,1270.7], "format": ".2f", "title": null, "grid": false, "domain": false, "ticks": true, "tickSize": 4, "tickColor": "#000000", "labelColor": "#000000", "labelFont": "Liberation Sans", "labelFontSize": 9, "labelPadding": 2, "labelFlush": false, "labelOverlap": false, "labelBound": false}},
"x2": {"field": "x2"},
"y2": {"field": "y2"}
}
},
{
"data": {"values": [{"x":151.6,"y":1237.26,"t":"1237.26"}]},
"mark": {"type": "text", "align": "left", "baseline": "middle", "font": "Liberation Sans", "fontSize": 9, "color": "#FFFFFF", "clip": false},
"encoding": {
"x": {"field": "x", "type": "quantitative", "scale": {"domain": [-0.375, 150.375], "nice": false, "zero": false},
"axis": {"orient": "bottom", "values": [0,16,32,48,64,80,96], "labelExpr": "['19 Jan 2016','22 Jan 05:00','26 Jan 21:00','29 Jan 13:00','3 Feb 05:00','5 Feb 21:00','10 Feb 13:00'][round(datum.value/16)]", "title": null, "grid": false, "domain": false, "ticks": true, "tickSize": -4, "tickColor": "#000000", "labelColor": "#000000", "labelFont": "Liberation Sans", "labelFontSize": 9.5, "labelPadding": 7, "labelAlign": "left", "labelFlush": false, "labelOverlap": false, "labelBound": false}},
"y": {"field": "y", "type": "quantitative", "scale": {"domain": [1078.15, 1274.92], "nice": false, "zero": false},
"axis": {"orient": "right", "values": [1079.2,1096.2,1113.7,1131.2,1148.7,1166.2,1183.7,1200.7,1218.2,1253.2,1270.7], "format": ".2f", "title": null, "grid": false, "domain": false, "ticks": true, "tickSize": 4, "tickColor": "#000000", "labelColor": "#000000", "labelFont": "Liberation Sans", "labelFontSize": 9, "labelPadding": 2, "labelFlush": false, "labelOverlap": false, "labelBound": false}},
"text": {"field": "t"}
}
}
]
}
